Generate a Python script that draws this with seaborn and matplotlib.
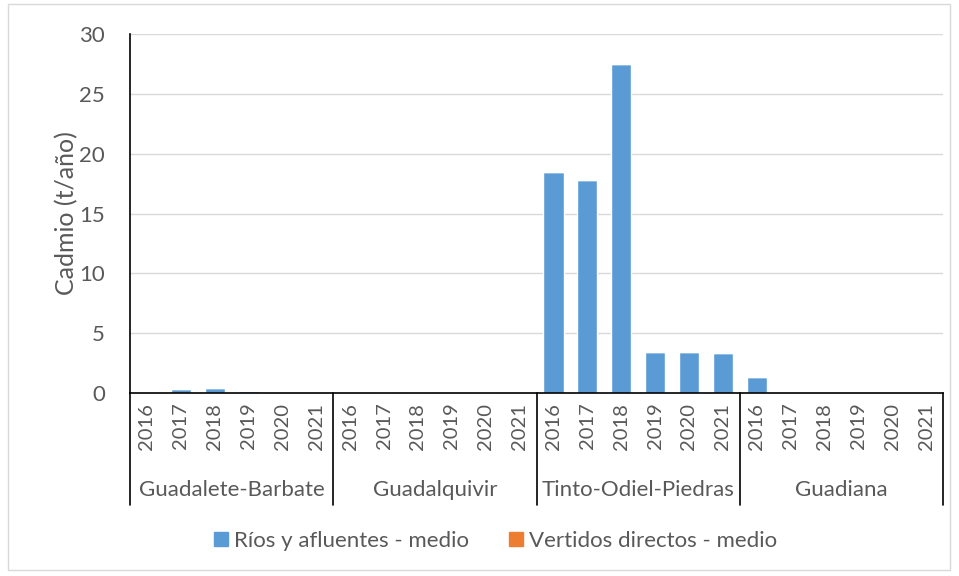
import pandas as pd
import numpy as np
import matplotlib.pyplot as plt
import matplotlib.transforms as mtransforms
from matplotlib.patches import Patch, Rectangle
import seaborn as sns

cuencas = ['Guadalete-Barbate', 'Guadalquivir', 'Tinto-Odiel-Piedras', 'Guadiana']
anios = ['2016', '2017', '2018', '2019', '2020', '2021']
rios = [0.02, 0.35, 0.40, 0.18, 0.02, 0.02,
        0.0, 0.02, 0.03, 0.0, 0.02, 0.0,
        18.5, 17.8, 27.5, 3.4, 3.4, 3.35,
        1.3, 0.0, 0.0, 0.0, 0.0, 0.0]
vertidos = [0.0, 0.0, 0.0, 0.0, 0.0, 0.0,
            0.0, 0.05, 0.05, 0.0, 0.05, 0.0,
            0.0, 0.0, 0.0, 0.0, 0.0, 0.0,
            0.0, 0.0, 0.0, 0.0, 0.0, 0.0]

df = pd.DataFrame({
    'cuenca': np.repeat(cuencas, len(anios)),
    'anio': anios * len(cuencas),
    'rios': rios,
    'vertidos': vertidos,
})
df['cat'] = df['cuenca'] + '|' + df['anio']
order = list(df['cat'])

sns.set_style('white')
plt.rcParams['font.family'] = ['Lato', 'DejaVu Sans']
gray = '#595959'
blue = '#5b9bd5'
orange = '#ed7d31'

fig = plt.figure(figsize=(9.59, 5.76), dpi=100)
ax = fig.add_axes([130 / 959, 1 - 393 / 576, 813 / 959, 359 / 576])

sns.barplot(data=df, x='cat', y='rios', order=order, color=blue, width=0.6,
            saturation=1, errorbar=None, ax=ax)
sns.barplot(data=df, x='cat', y='vertidos', order=order, color=orange, width=0.6,
            saturation=1, errorbar=None, ax=ax, bottom=df['rios'].to_numpy())

ax.set_xlim(-0.5, len(order) - 0.5)
ax.set_ylim(0, 30)
ax.set_yticks(range(0, 31, 5))
ax.yaxis.grid(True, color='#d9d9d9', linewidth=1)
ax.set_axisbelow(True)
for s in ['top', 'right']:
    ax.spines[s].set_visible(False)
ax.spines['left'].set_color('black')
ax.spines['bottom'].set_color('black')
ax.spines['left'].set_linewidth(1.2)
ax.spines['bottom'].set_linewidth(1.2)
ax.tick_params(axis='y', labelsize=16, colors=gray, length=0, pad=18)
ax.set_xticks(range(len(order)))
ax.set_xticklabels(df['anio'], rotation=90, fontsize=14.5, color=gray)
ax.tick_params(axis='x', length=0, pad=7)
ax.set_xlabel('')
ax.set_ylabel('Cadmio (t/año)', fontsize=18, color=gray, labelpad=1)

# category axis separators and group labels
trans = mtransforms.blended_transform_factory(ax.transData, ax.transAxes)
bottom_y = -(505 - 393) / 359
for i in range(len(cuencas) + 1):
    xb = i * len(anios) - 0.5
    ax.plot([xb, xb], [0, bottom_y], color='black', linewidth=1.2,
            transform=trans, clip_on=False)
for i, c in enumerate(cuencas):
    xc = i * len(anios) + (len(anios) - 1) / 2
    ax.text(xc, -(490 - 393) / 359, c, transform=trans, ha='center', va='center',
            fontsize=16, color=gray)

handles = [Patch(color=blue), Patch(color=orange)]
fig.legend(handles, ['Ríos y afluentes - medio', 'Vertidos directos - medio'],
           loc='center', bbox_to_anchor=(496 / 959, 1 - 541 / 576), ncol=2, frameon=False,
           fontsize=16, labelcolor=gray, handlelength=0.6, handleheight=0.6,
           handletextpad=0.3, columnspacing=1.8)

fig.patches.append(Rectangle((8 / 959, 1 - 570 / 576), 942 / 959, 566 / 576,
                             transform=fig.transFigure, fill=False,
                             edgecolor='#d9d9d9', linewidth=1))

fig.savefig('out.png', dpi=100)
